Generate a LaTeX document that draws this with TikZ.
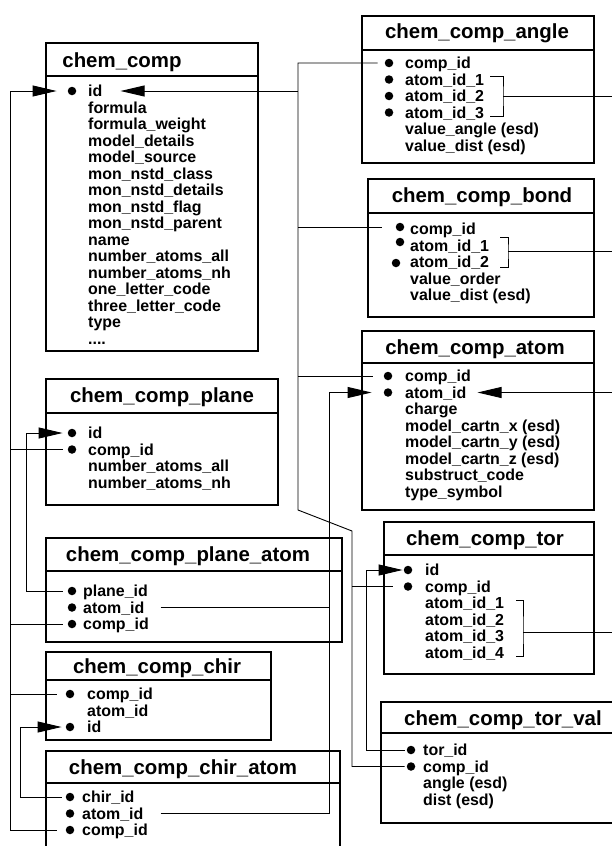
\documentclass[tikz,border=0pt]{standalone}
\usepackage{fontspec}
\setmainfont{Liberation Sans}
\usetikzlibrary{arrows.meta}
\newcommand{\rh}{16.5}
\newcommand{\ttlfont}{\fontsize{20.5}{22}\selectfont\bfseries}
\newcommand{\fldfont}{\fontsize{16}{16.5}\selectfont\bfseries}

\begin{document}
\begin{tikzpicture}[x=1bp, y=-1bp,
    tbl/.style={draw, rectangle, anchor=north west, line width=2.2bp, inner sep=0pt},
    ttl/.style={font=\ttlfont, anchor=base, inner sep=0pt},
    fld/.style={font=\fldfont, anchor=west, inner sep=0pt, text height=11.5bp, text depth=0bp},
    bul/.style={circle, fill, inner sep=0pt, minimum size=8.5bp},
    divline/.style={line width=1.8bp},
    wire/.style={line width=0.9bp},
    into/.style={wire, -{Triangle[length=24bp, width=11bp]}}]
    \useasboundingbox (0,0) rectangle (612,846);
    \clip (0,0) rectangle (612,846);

    % chem_comp
    \node[tbl, minimum width=212bp, minimum height=308bp] (chem_comp) at (45,42) {};
    \draw[divline] ([yshift=-34bp]chem_comp.north west) -- ([yshift=-34bp]chem_comp.north east);
    \node[ttl] (chem_comp-t) at (122,67) {chem\_comp};
    \node[bul] (cc-id-b) at (72,91) {};
    \node[fld] (cc-id) at (88,91+0*\rh) {id};
    \node[fld] (cc-formula) at (88,91+1*\rh) {formula};
    \node[fld] (cc-weight) at (88,91+2*\rh) {formula\_weight};
    \node[fld] (cc-mdetails) at (88,91+3*\rh) {model\_details};
    \node[fld] (cc-msource) at (88,91+4*\rh) {model\_source};
    \node[fld] (cc-class) at (88,91+5*\rh) {mon\_nstd\_class};
    \node[fld] (cc-ndetails) at (88,91+6*\rh) {mon\_nstd\_details};
    \node[fld] (cc-flag) at (88,91+7*\rh) {mon\_nstd\_flag};
    \node[fld] (cc-parent) at (88,91+8*\rh) {mon\_nstd\_parent};
    \node[fld] (cc-name) at (88,91+9*\rh) {name};
    \node[fld] (cc-all) at (88,91+10*\rh) {number\_atoms\_all};
    \node[fld] (cc-nh) at (88,91+11*\rh) {number\_atoms\_nh};
    \node[fld] (cc-one) at (88,91+12*\rh) {one\_letter\_code};
    \node[fld] (cc-three) at (88,91+13*\rh) {three\_letter\_code};
    \node[fld] (cc-type) at (88,91+14*\rh) {type};
    \node[fld] (cc-more) at (88,91+15*\rh) {....};

    % chem_comp_angle
    \node[tbl, minimum width=232bp, minimum height=147bp] (angle) at (361,15) {};
    \draw[divline] ([yshift=-35bp]angle.north west) -- ([yshift=-35bp]angle.north east);
    \node[ttl] (angle-t) at (477,38) {chem\_comp\_angle};
    \node[bul] (ang-comp-b) at (389,63+0*\rh) {};
    \node[bul] (ang-a1-b) at (389,63+1*\rh) {};
    \node[bul] (ang-a2-b) at (389,63+2*\rh) {};
    \node[bul] (ang-a3-b) at (389,63+3*\rh) {};
    \node[fld] (ang-comp) at (405,63+0*\rh) {comp\_id};
    \node[fld] (ang-a1) at (405,63+1*\rh) {atom\_id\_1};
    \node[fld] (ang-a2) at (405,63+2*\rh) {atom\_id\_2};
    \node[fld] (ang-a3) at (405,63+3*\rh) {atom\_id\_3};
    \node[fld] (ang-value) at (405,63+4*\rh) {value\_angle (esd)};
    \node[fld] (ang-dist) at (405,63+5*\rh) {value\_dist (esd)};

    % chem_comp_bond
    \node[tbl, minimum width=226bp, minimum height=138bp] (bond) at (367,178) {};
    \draw[divline] ([yshift=-35bp]bond.north west) -- ([yshift=-35bp]bond.north east);
    \node[ttl] (bond-t) at (482,202) {chem\_comp\_bond};
    \node[bul] (bond-comp-b) at (400,227) {};
    \node[bul] (bond-a1-b) at (400,242) {};
    \node[bul] (bond-a2-b) at (396,263) {};
    \node[fld] (bond-comp) at (410,229+0*\rh) {comp\_id};
    \node[fld] (bond-a1) at (410,229+1*\rh) {atom\_id\_1};
    \node[fld] (bond-a2) at (410,229+2*\rh) {atom\_id\_2};
    \node[fld] (bond-order) at (410,229+3*\rh) {value\_order};
    \node[fld] (bond-dist) at (410,229+4*\rh) {value\_dist (esd)};

    % chem_comp_atom
    \node[tbl, minimum width=232bp, minimum height=179bp] (atom) at (361,330) {};
    \draw[divline] ([yshift=-33bp]atom.north west) -- ([yshift=-33bp]atom.north east);
    \node[ttl] (atom-t) at (475,354) {chem\_comp\_atom};
    \node[bul] (atom-comp-b) at (388,376+0*\rh) {};
    \node[bul] (atom-atom-b) at (388,376+1*\rh) {};
    \node[fld] (atom-comp) at (405,376+0*\rh) {comp\_id};
    \node[fld] (atom-atom) at (405,376+1*\rh) {atom\_id};
    \node[fld] (atom-charge) at (405,376+2*\rh) {charge};
    \node[fld] (atom-x) at (405,376+3*\rh) {model\_cartn\_x (esd)};
    \node[fld] (atom-y) at (405,376+4*\rh) {model\_cartn\_y (esd)};
    \node[fld] (atom-z) at (405,376+5*\rh) {model\_cartn\_z (esd)};
    \node[fld] (atom-sub) at (405,376+6*\rh) {substruct\_code};
    \node[fld] (atom-sym) at (405,376+7*\rh) {type\_symbol};

    % chem_comp_plane
    \node[tbl, minimum width=232bp, minimum height=126bp] (plane) at (45,378) {};
    \draw[divline] ([yshift=-35bp]plane.north west) -- ([yshift=-35bp]plane.north east);
    \node[ttl] (plane-t) at (162,402) {chem\_comp\_plane};
    \node[bul] (pl-id-b) at (72,433+0*\rh) {};
    \node[bul] (pl-comp-b) at (72,433+1*\rh) {};
    \node[fld] (pl-id) at (88,433+0*\rh) {id};
    \node[fld] (pl-comp) at (88,433+1*\rh) {comp\_id};
    \node[fld] (pl-all) at (88,433+2*\rh) {number\_atoms\_all};
    \node[fld] (pl-nh) at (88,433+3*\rh) {number\_atoms\_nh};

    % chem_comp_plane_atom
    \node[tbl, minimum width=296bp, minimum height=104bp] (plane_atom) at (45,537) {};
    \draw[divline] ([yshift=-34bp]plane_atom.north west) -- ([yshift=-34bp]plane_atom.north east);
    \node[ttl] (plane_atom-t) at (188,561) {chem\_comp\_plane\_atom};
    \node[bul] (pla-plane-b) at (72,591+0*\rh) {};
    \node[bul] (pla-atom-b) at (72,591+1*\rh) {};
    \node[bul] (pla-comp-b) at (72,591+2*\rh) {};
    \node[fld] (pla-plane) at (83,591+0*\rh) {plane\_id};
    \node[fld] (pla-atom) at (83,591+1*\rh) {atom\_id};
    \node[fld] (pla-comp) at (83,591+2*\rh) {comp\_id};

    % chem_comp_chir
    \node[tbl, minimum width=225bp, minimum height=88bp] (chir) at (45,651) {};
    \draw[divline] ([yshift=-29bp]chir.north west) -- ([yshift=-29bp]chir.north east);
    \node[ttl] (chir-t) at (157,673) {chem\_comp\_chir};
    \node[bul] (chir-comp-b) at (70,694+0*\rh) {};
    \node[bul] (chir-id-b) at (70,694+2*\rh) {};
    \node[fld] (chir-comp) at (87,694+0*\rh) {comp\_id};
    \node[fld] (chir-atom) at (87,694+1*\rh) {atom\_id};
    \node[fld] (chir-id) at (87,694+2*\rh) {id};

    % chem_comp_chir_atom
    \node[tbl, minimum width=294bp, minimum height=130bp] (chir_atom) at (45,750) {};
    \draw[divline] ([yshift=-33bp]chir_atom.north west) -- ([yshift=-33bp]chir_atom.north east);
    \node[ttl] (chir_atom-t) at (183,774) {chem\_comp\_chir\_atom};
    \node[bul] (cha-chir-b) at (70,797+0*\rh) {};
    \node[bul] (cha-atom-b) at (70,797+1*\rh) {};
    \node[bul] (cha-comp-b) at (70,797+2*\rh) {};
    \node[fld] (cha-chir) at (82,797+0*\rh) {chir\_id};
    \node[fld] (cha-atom) at (82,797+1*\rh) {atom\_id};
    \node[fld] (cha-comp) at (82,797+2*\rh) {comp\_id};

    % chem_comp_tor
    \node[tbl, minimum width=210bp, minimum height=152bp] (tor) at (383,521) {};
    \draw[divline] ([yshift=-34bp]tor.north west) -- ([yshift=-34bp]tor.north east);
    \node[ttl] (tor-t) at (485,545) {chem\_comp\_tor};
    \node[bul] (tor-id-b) at (408,570+0*\rh) {};
    \node[bul] (tor-comp-b) at (408,570+1*\rh) {};
    \node[fld] (tor-id) at (425,570+0*\rh) {id};
    \node[fld] (tor-comp) at (425,570+1*\rh) {comp\_id};
    \node[fld] (tor-a1) at (425,570+2*\rh) {atom\_id\_1};
    \node[fld] (tor-a2) at (425,570+3*\rh) {atom\_id\_2};
    \node[fld] (tor-a3) at (425,570+4*\rh) {atom\_id\_3};
    \node[fld] (tor-a4) at (425,570+5*\rh) {atom\_id\_4};

    % chem_comp_tor_val
    \node[tbl, minimum width=260bp, minimum height=121bp] (tor_val) at (380,701) {};
    \draw[divline] ([yshift=-32bp]tor_val.north west) -- ([yshift=-32bp]tor_val.north east);
    \node[ttl] (tor_val-t) at (503,725) {chem\_comp\_tor\_val};
    \node[bul] (tv-tor-b) at (411,750+0*\rh) {};
    \node[bul] (tv-comp-b) at (411,750+1*\rh) {};
    \node[fld] (tv-tor) at (423,750+0*\rh) {tor\_id};
    \node[fld] (tv-comp) at (423,750+1*\rh) {comp\_id};
    \node[fld] (tv-angle) at (423,750+2*\rh) {angle (esd)};
    \node[fld] (tv-dist) at (423,750+3*\rh) {dist (esd)};

    % where the connectors bend
    \coordinate (edge) at (612,0);
    \coordinate (trunk-left) at (10,0);
    \coordinate (loop-plane) at (26,0);
    \coordinate (loop-chir) at (20,0);
    \coordinate (trunk-mid) at (298,510);
    \coordinate (trunk-low) at (352,531);
    \coordinate (trunk-atom) at (329,0);
    \coordinate (loop-tor) at (366,0);
    \coordinate (angle-br) at (503,96);
    \coordinate (bond-br) at (508,251);
    \coordinate (tor-br) at (523,632);

    % chem_comp.id, left side
    \draw[into] ([xshift=-9bp]cha-comp-b.west) -| (trunk-left |- cc-id-b) -- ([xshift=-11bp]cc-id-b.west);
    \draw[wire] (trunk-left |- pl-comp-b) -- ([xshift=-5bp]pl-comp-b.west);
    \draw[wire] (trunk-left |- pla-comp-b) -- ([xshift=-5bp]pla-comp-b.west);
    \draw[wire] (trunk-left |- chir-comp-b) -- ([xshift=-9bp]chir-comp-b.west);
    \draw[into] ([xshift=-5bp]pla-plane-b.west) -| (loop-plane |- pl-id-b) -- ([xshift=-5bp]pl-id-b.west);
    \draw[into] ([xshift=-4bp]cha-chir-b.west) -| (loop-chir |- chir-id-b) -- ([xshift=-4bp]chir-id-b.west);

    % chem_comp.id, right side
    \draw[wire] ([xshift=-7bp]ang-comp-b.west) -| (trunk-mid) -- (trunk-low) |- ([xshift=-2bp]tv-comp-b.west);
    \draw[into] (trunk-mid |- cc-id) -- ([xshift=18bp]cc-id.east);
    \draw[wire] (trunk-mid |- bond-comp-b) -- ([xshift=-14bp]bond-comp-b.west);
    \draw[wire] (trunk-mid |- atom-comp-b) -- ([xshift=-11bp]atom-comp-b.west);
    \draw[wire] (trunk-low |- tor-comp-b) -- ([xshift=-11bp]tor-comp-b.west);

    % chem_comp_atom.atom_id
    \draw[into] ([xshift=17bp]cha-atom.east) -| (trunk-atom |- atom-atom-b) -- ([xshift=-12bp]atom-atom-b.west);
    \draw[wire] ([xshift=16bp]pla-atom.east) -- (trunk-atom |- pla-atom);
    \draw[into] (edge |- atom-atom) -- ([xshift=11bp]atom-atom.east);

    % chem_comp_tor.id
    \draw[into] ([xshift=-2bp]tv-tor-b.west) -| (loop-tor |- tor-id-b) -- ([xshift=-1bp]tor-id-b.west);

    % brackets
    \draw[wire] ([xshift=6bp,yshift=3bp]ang-a1.east) -| (angle-br) |- ([xshift=6bp,yshift=-4bp]ang-a3.east);
    \draw[wire] (angle-br) -- (edge |- angle-br);
    \draw[wire] ([xshift=11bp,yshift=8bp]bond-a1.east) -| (bond-br) |- ([xshift=11bp,yshift=-5bp]bond-a2.east);
    \draw[wire] (bond-br) -- (edge |- bond-br);
    \draw[wire] ([xshift=12bp,yshift=3bp]tor-a1.east) -| (tor-br) |- ([xshift=12bp,yshift=-3.5bp]tor-a4.east);
    \draw[wire] (tor-br) -- (edge |- tor-br);

\end{tikzpicture}
\end{document}
